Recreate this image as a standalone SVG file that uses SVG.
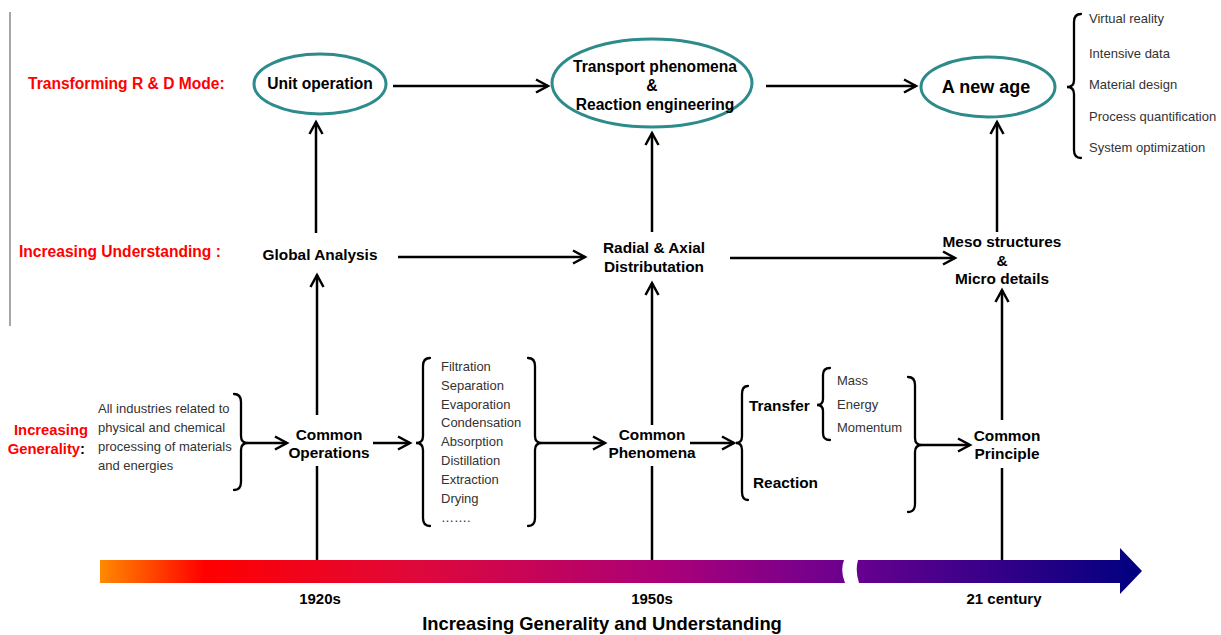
<svg xmlns="http://www.w3.org/2000/svg" width="1221" height="635" viewBox="0 0 1221 635">
<style>
.t{font-family:"Liberation Sans",Arial,sans-serif;fill:#000}
.b{font-weight:bold}
.red{fill:#ff0000;font-weight:bold;font-size:15.6px}
.n{font-size:15.4px;font-weight:bold}
.s{font-size:13px;fill:#333}
.ell{fill:#fff;stroke:#2e8b8b;stroke-width:3}
.ln{stroke:#000;stroke-width:2.5;fill:none}
.br{stroke:#000;stroke-width:2.3;fill:none;stroke-linecap:round}
</style>
<defs>
<marker id="ah" markerUnits="userSpaceOnUse" markerWidth="18" markerHeight="18" refX="14" refY="8" orient="auto">
<path d="M2,1.5 L14,8 L2,14.5" fill="none" stroke="#000" stroke-width="2.5"/>
</marker>
<linearGradient id="tl" gradientUnits="userSpaceOnUse" x1="100" y1="0" x2="1142" y2="0">
<stop offset="0" stop-color="#ff8a00"/>
<stop offset="0.1" stop-color="#ff0000"/>
<stop offset="0.3" stop-color="#e0083a"/>
<stop offset="0.55" stop-color="#a8007a"/>
<stop offset="0.72" stop-color="#6a0090"/>
<stop offset="1" stop-color="#000080"/>
</linearGradient>
</defs>
<rect width="1221" height="635" fill="#fff"/>
<line x1="10" y1="12" x2="10" y2="326" stroke="#888" stroke-width="1.5"/>

<g id="labels">
<text class="t red" x="28" y="89">Transforming R &amp; D Mode:</text>
<text class="t red" x="19" y="257">Increasing Understanding :</text>
<text class="t red" x="88" y="435" text-anchor="end" style="font-size:14.8px">Increasing</text>
<text class="t red" x="85" y="454" text-anchor="end" style="font-size:14.8px">Generality<tspan fill="#000">:</tspan></text>
</g>

<g id="timeline">
<path d="M100,560 H844 Q840,571 845,583 H100 Z" fill="url(#tl)"/>
<path d="M858,560 H1120 V548 L1142,571 L1120,594 V583 H859 Q855,571 858,560 Z" fill="url(#tl)"/>
<text class="t b" x="320" y="604" text-anchor="middle" font-size="15">1920s</text>
<text class="t b" x="652" y="604" text-anchor="middle" font-size="15">1950s</text>
<text class="t b" x="1004" y="604" text-anchor="middle" font-size="15">21 century</text>
<text class="t b" x="602" y="630" text-anchor="middle" font-size="18.4">Increasing Generality and  Understanding</text>
</g>

<g id="connectors">
<line class="ln" x1="393" y1="86" x2="548" y2="86" marker-end="url(#ah)"/>
<line class="ln" x1="766" y1="86" x2="916" y2="86" marker-end="url(#ah)"/>
<line class="ln" x1="316" y1="233" x2="316" y2="122" marker-end="url(#ah)"/>
<line class="ln" x1="652" y1="232" x2="652" y2="133" marker-end="url(#ah)"/>
<line class="ln" x1="997" y1="232" x2="997" y2="122" marker-end="url(#ah)"/>
<line class="ln" x1="398" y1="257" x2="585" y2="257" marker-end="url(#ah)"/>
<line class="ln" x1="730" y1="258" x2="955" y2="258" marker-end="url(#ah)"/>
<line class="ln" x1="317" y1="415" x2="317" y2="275" marker-end="url(#ah)"/>
<line class="ln" x1="317" y1="466" x2="317" y2="560"/>
<line class="ln" x1="652" y1="425" x2="652" y2="283" marker-end="url(#ah)"/>
<line class="ln" x1="652" y1="466" x2="652" y2="560"/>
<line class="ln" x1="1002" y1="420" x2="1002" y2="290" marker-end="url(#ah)"/>
<line class="ln" x1="1002" y1="468" x2="1002" y2="560"/>
<line class="ln" x1="248" y1="443" x2="287" y2="443" marker-end="url(#ah)"/>
<line class="ln" x1="373" y1="443" x2="410" y2="443" marker-end="url(#ah)"/>
<line class="ln" x1="542" y1="443" x2="605" y2="443" marker-end="url(#ah)"/>
<line class="ln" x1="690" y1="443" x2="734" y2="443" marker-end="url(#ah)"/>
<line class="ln" x1="922" y1="445" x2="970" y2="445" marker-end="url(#ah)"/>
</g>

<g id="braces">
<path class="br" d="M234,394 Q241,394 241,402 L241,436 Q241,443 248,443 Q241,443 241,450 L241,482 Q241,490 234,490"/>
<path class="br" d="M430,358 Q423,358 423,366 L423,436 Q423,443 416,443 Q423,443 423,450 L423,518 Q423,526 430,526"/>
<path class="br" d="M528,358 Q535,358 535,366 L535,436 Q535,443 542,443 Q535,443 535,450 L535,518 Q535,526 528,526"/>
<path class="br" d="M748,386 Q742,386 742,394 L742,436 Q742,443 736,443 Q742,443 742,450 L742,492 Q742,500 748,500"/>
<path class="br" d="M830,368 Q823,368 823,375 L823,399 Q823,405 817,405 Q823,405 823,411 L823,433 Q823,440 830,440"/>
<path class="br" d="M908,377 Q915,377 915,385 L915,438 Q915,445 922,445 Q915,445 915,452 L915,504 Q915,512 908,512"/>
<path class="br" d="M1081,14 Q1074,14 1074,22 L1074,80 Q1074,87 1067,87 Q1074,87 1074,94 L1074,150 Q1074,158 1081,158"/>
</g>

<g id="unit-operation">
<ellipse class="ell" cx="320" cy="84" rx="66" ry="30"/>
<text class="t b" x="320" y="89" text-anchor="middle" font-size="15.6">Unit operation</text>
</g>
<g id="transport">
<ellipse class="ell" cx="652" cy="83" rx="100" ry="44"/>
<text class="t b" x="655" y="72" text-anchor="middle" font-size="15.6">Transport phenomena</text>
<text class="t b" x="652" y="91" text-anchor="middle" font-size="15.6">&amp;</text>
<text class="t b" x="655" y="110" text-anchor="middle" font-size="15.6">Reaction engineering</text>
</g>
<g id="new-age">
<ellipse class="ell" cx="988" cy="87" rx="67" ry="30"/>
<text class="t b" x="986" y="93" text-anchor="middle" font-size="18">A new age</text>
</g>
<g id="new-age-list">
<text class="t s" x="1089" y="23">Virtual reality</text>
<text class="t s" x="1089" y="58">Intensive data</text>
<text class="t s" x="1089" y="89">Material design</text>
<text class="t s" x="1089" y="121">Process quantification</text>
<text class="t s" x="1089" y="152">System optimization</text>
</g>

<g id="global-analysis">
<text class="t n" x="320" y="260" text-anchor="middle">Global Analysis</text>
</g>
<g id="radial">
<text class="t n" x="654" y="253" text-anchor="middle">Radial &amp; Axial</text>
<text class="t n" x="654" y="272" text-anchor="middle">Distributation</text>
</g>
<g id="meso">
<text class="t n" x="1002" y="247" text-anchor="middle">Meso structures</text>
<text class="t n" x="1002" y="266" text-anchor="middle">&amp;</text>
<text class="t n" x="1002" y="284" text-anchor="middle">Micro details</text>
</g>

<g id="industries">
<text class="t s" x="98" y="413">All industries related to</text>
<text class="t s" x="98" y="432">physical and chemical</text>
<text class="t s" x="98" y="451">processing  of materials</text>
<text class="t s" x="98" y="470">and energies</text>
</g>
<g id="common-operations">
<text class="t n" x="329" y="440" text-anchor="middle">Common</text>
<text class="t n" x="329" y="458" text-anchor="middle">Operations</text>
</g>
<g id="operations-list">
<text class="t s" x="441" y="371">Filtration</text>
<text class="t s" x="441" y="390">Separation</text>
<text class="t s" x="441" y="409">Evaporation</text>
<text class="t s" x="441" y="427">Condensation</text>
<text class="t s" x="441" y="446">Absorption</text>
<text class="t s" x="441" y="465">Distillation</text>
<text class="t s" x="441" y="484">Extraction</text>
<text class="t s" x="441" y="503">Drying</text>
<text class="t s" x="441" y="522">…….</text>
</g>
<g id="common-phenomena">
<text class="t n" x="652" y="440" text-anchor="middle">Common</text>
<text class="t n" x="652" y="458" text-anchor="middle">Phenomena</text>
</g>
<g id="transfer">
<text class="t n" x="749" y="411">Transfer</text>
</g>
<g id="transfer-list">
<text class="t s" x="837" y="385">Mass</text>
<text class="t s" x="837" y="409">Energy</text>
<text class="t s" x="837" y="432">Momentum</text>
</g>
<g id="reaction">
<text class="t n" x="753" y="488">Reaction</text>
</g>
<g id="common-principle">
<text class="t n" x="1007" y="441" text-anchor="middle">Common</text>
<text class="t n" x="1007" y="459" text-anchor="middle">Principle</text>
</g>
</svg>
